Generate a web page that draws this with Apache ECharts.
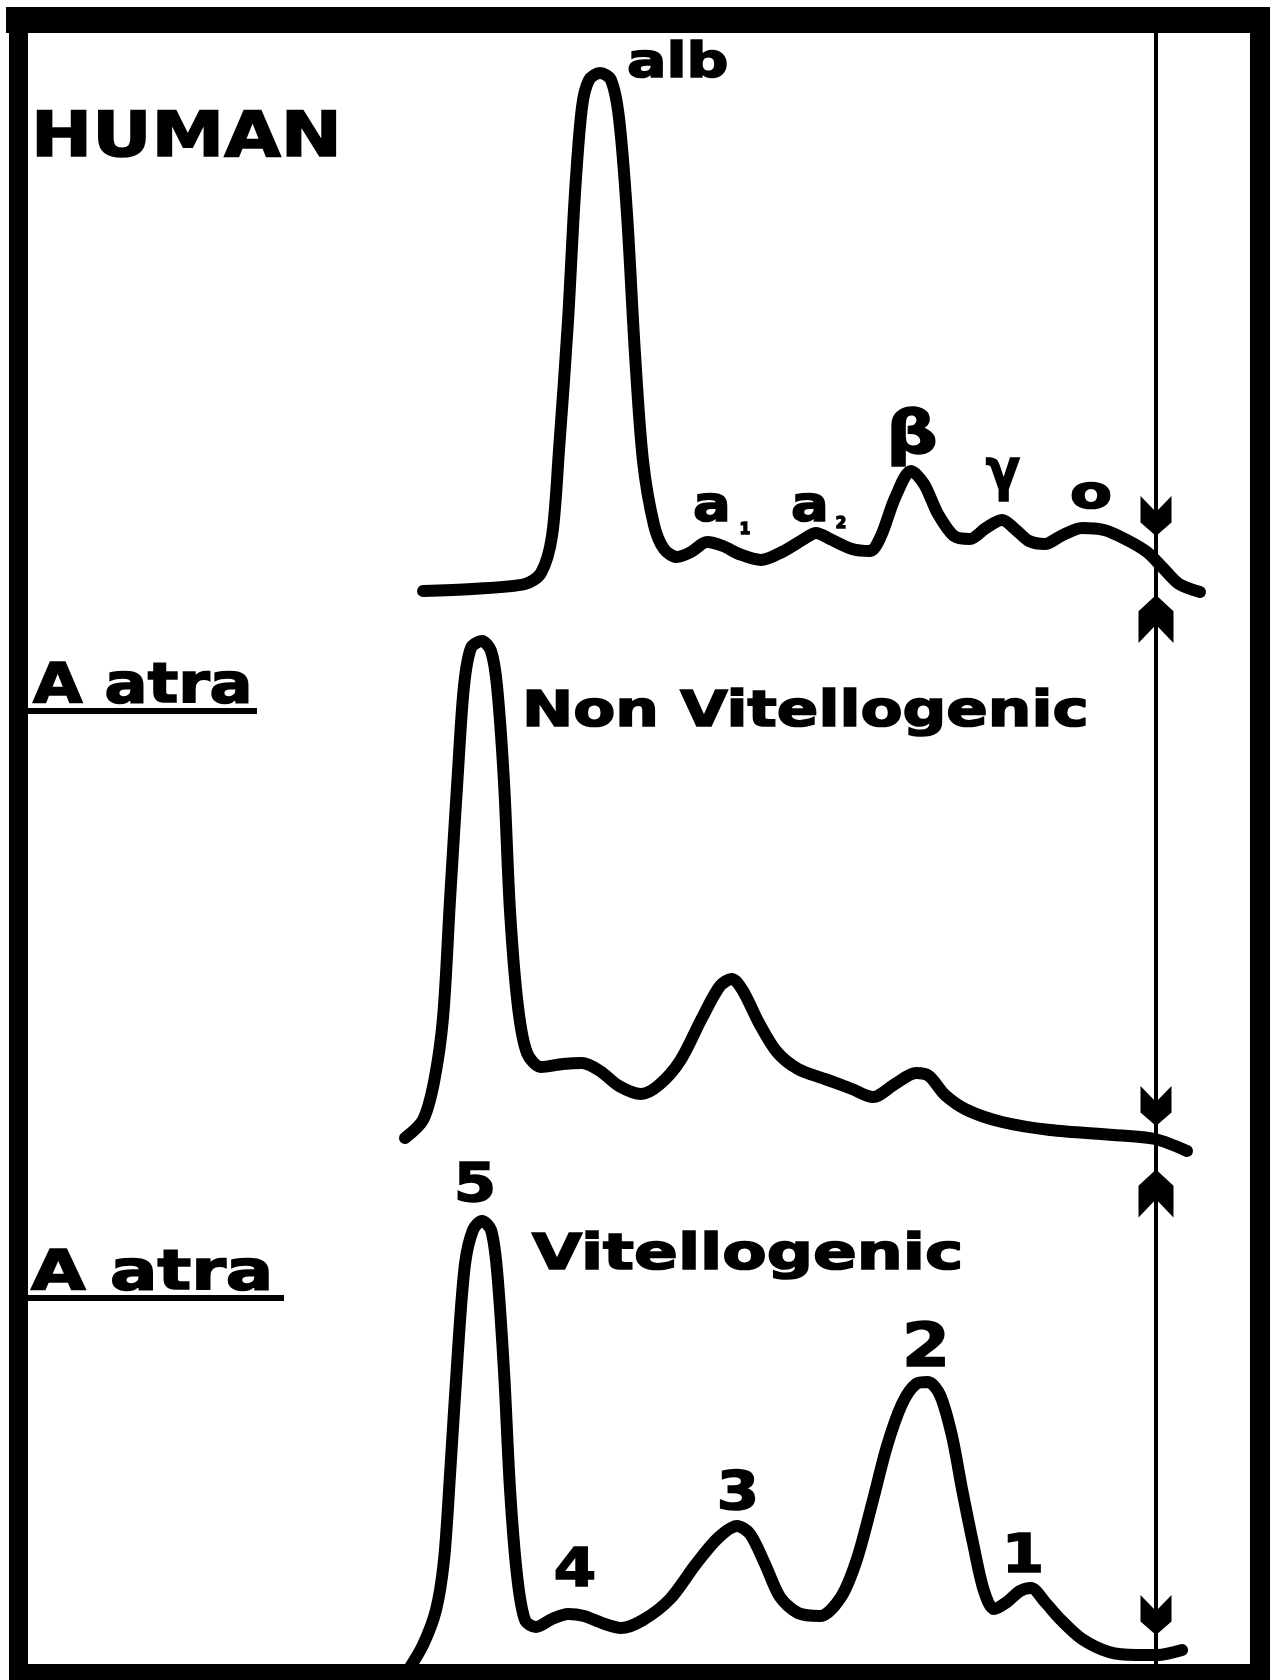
<!DOCTYPE html>
<html>
<head>
<meta charset="utf-8">
<script src="https://cdn.jsdelivr.net/npm/echarts@6/dist/echarts.min.js"></script>
<style>
  html, body { margin: 0; padding: 0; background: #fff; }
  #chart { width: 1274px; height: 1680px; }
</style>
</head>
<body>
<div id="chart"></div>
<script>
// Densitometer scans of serum proteins after electrophoresis.
// Migration distance (arbitrary units) against relative absorbance.

const humanMigration = [4.3, 9.2, 14.5, 16.1, 17.2, 17.9, 18.8, 19.5, 20.2, 20.9, 22.0, 23.1, 23.9, 24.7, 25.5, 26.3, 27.4, 28.4, 29.7, 31.1,
  32.7, 34.3, 35.9, 38.1, 40.2, 42.4, 43.6, 45.0, 47.2, 49.0, 50.1, 51.5, 53.1, 54.4, 55.8, 57.4, 59.0, 60.6, 62.2, 63.6,
  64.9, 66.5, 68.1, 70.2, 72.4, 74.5, 76.7, 78.3, 79.9, 82.0];
const humanAbsorbance = [1.9, 2.1, 2.6, 3.7, 7.4, 16.0, 28.9, 41.7, 50.3, 53.0, 53.7, 53.0, 49.2, 39.6, 25.6, 14.9, 8.5, 6.1, 5.3, 5.8,
  6.8, 6.4, 5.6, 5.0, 5.8, 7.1, 7.7, 7.1, 6.1, 5.9, 7.4, 11.2, 13.9, 12.6, 9.6, 7.4, 7.1, 8.2, 9.0, 8.0,
  6.9, 6.6, 7.4, 8.2, 8.0, 7.1, 5.8, 4.2, 2.6, 1.8];

const nonVitMigration = [2.5, 4.3, 5.4, 6.3, 7.0, 7.8, 8.4, 9.1, 10.2, 11.1, 11.7, 12.4, 13.0, 13.8, 14.7, 16.1, 18.3, 20.2, 22.0, 23.9,
  26.1, 27.9, 30.0, 32.2, 34.0, 35.2, 36.3, 37.9, 39.7, 41.8, 44.5, 47.2, 49.3, 51.5, 53.6, 54.9, 56.5, 58.7, 62.2, 67.0,
  73.4, 77.5, 80.7];
const nonVitAbsorbance = [1.2, 3.0, 6.8, 13.2, 25.0, 37.9, 46.4, 50.2, 50.9, 49.9, 46.4, 36.8, 23.9, 14.3, 9.7, 8.3, 8.6, 8.7, 7.9, 6.4,
  5.6, 6.5, 8.9, 13.2, 16.4, 17.1, 15.9, 12.7, 9.8, 8.1, 7.1, 6.1, 5.3, 6.6, 7.7, 7.4, 5.5, 4.0, 2.8, 2.0,
  1.5, 1.1, -0.1];

const vitMigration = [2.7, 4.3, 5.6, 6.4, 7.0, 7.8, 8.5, 9.3, 10.2, 11.1, 11.7, 12.4, 13.0, 13.7, 14.5, 15.6, 17.2, 18.8, 20.4, 22.2,
  24.1, 26.3, 29.0, 31.6, 33.8, 35.7, 37.0, 38.5, 40.0, 41.8, 44.0, 46.1, 47.7, 49.3, 50.7, 52.2, 53.6, 54.8, 56.0, 57.2,
  58.2, 59.3, 60.4, 61.4, 62.7, 64.0, 65.1, 66.5, 68.1, 70.2, 72.9, 75.6, 77.7, 80.2];
const vitAbsorbance = [-2.2, 0.5, 4.0, 9.0, 17.5, 30.0, 38.6, 42.0, 42.9, 42.0, 38.0, 27.9, 16.1, 7.5, 3.0, 2.3, 3.1, 3.6, 3.4, 2.7,
  2.2, 3.0, 5.1, 8.6, 11.2, 12.4, 11.6, 8.6, 5.3, 3.7, 3.4, 5.3, 9.1, 15.0, 20.4, 24.6, 26.6, 26.8, 25.5, 21.4,
  16.1, 10.7, 5.9, 4.1, 4.8, 5.9, 6.2, 4.8, 3.0, 1.1, -0.2, -0.5, -0.5, 0.0];

// Application slot (origin) and the arrows that mark it on each trace
const originMigration = 77.6;
const originArrowDown = [9.4, 4.4, 3.5];
const originArrowUp = [-0.9, -4.35];

const pairs = (xs, ys) => xs.map((x, i) => [x, ys[i]]);

const INK = '#000';
const FONT = 'DejaVu Sans';
const downArrow = 'path://M0,0 L50,40 L100,0 L100,66 L50,100 L0,66 Z';
const upArrow = 'path://M50,0 L100,34 L100,100 L50,62 L0,100 L0,34 Z';

// three stacked traces share one migration scale, plus one overlay for the origin line
const traceGrids = [
  { left: 380, width: 840, top: 40, height: 620 },
  { left: 380, width: 840, top: 580, height: 620 },
  { left: 380, width: 840, top: 1080, height: 620 }
];
const grids = traceGrids.concat([{ left: 380, width: 840, top: 33, height: 1631 }])
  .map(g => Object.assign({ containLabel: false, outerBoundsMode: 'none', show: false }, g));

const xAxes = grids.map((g, i) => ({ type: 'value', gridIndex: i, min: 0, max: 84, show: false }));
const yAxes = grids.map((g, i) => i < 3
  ? { type: 'value', gridIndex: i, min: -5, max: 57, show: false }
  : { type: 'value', gridIndex: i, min: 0, max: 1, show: false });

const traceLine = { width: 12, color: INK, cap: 'round', join: 'round' };
const traces = [
  pairs(humanMigration, humanAbsorbance),
  pairs(nonVitMigration, nonVitAbsorbance),
  pairs(vitMigration, vitAbsorbance)
].map((data, i) => ({
  type: 'line', xAxisIndex: i, yAxisIndex: i, data,
  smooth: 0.3, symbol: 'none', clip: false, silent: true,
  lineStyle: traceLine
}));

const originLine = {
  type: 'line', xAxisIndex: 3, yAxisIndex: 3,
  data: [[originMigration, 0], [originMigration, 1]],
  symbol: 'none', clip: false, silent: true,
  lineStyle: { width: 4, color: INK }
};

const markerStyle = { color: INK, opacity: 1 };
const downMarks = originArrowDown.map((y, i) => ({
  type: 'scatter', xAxisIndex: i, yAxisIndex: i, data: [[originMigration, y]],
  symbol: downArrow, symbolSize: [31, 40], clip: false, silent: true,
  itemStyle: markerStyle, z: 5
}));
const upMarks = originArrowUp.map((y, i) => ({
  type: 'scatter', xAxisIndex: i, yAxisIndex: i, data: [[originMigration, y]],
  symbol: upArrow, symbolSize: [35, 48], clip: false, silent: true,
  itemStyle: markerStyle, z: 5
}));

function label(text, x, y, size, scaleX, align) {
  return {
    type: 'text', x, y, scaleX: scaleX || 1, silent: true, z: 10,
    style: {
      text, fontSize: size, fontWeight: 'bold', fontFamily: FONT, fill: INK,
      stroke: INK, lineWidth: 1.6,
      align: align || 'left', verticalAlign: 'middle'
    }
  };
}
function bar(x, y, width, height) {
  return { type: 'rect', silent: true, z: 20, shape: { x, y, width, height }, style: { fill: INK } };
}

const graphics = [
  // frame
  bar(6, 7, 1264, 26),
  bar(9, 7, 19, 1673),
  bar(1250, 7, 20, 1673),
  bar(9, 1664, 1261, 16),
  // titles
  label('HUMAN', 31, 140, 63, 1.16),
  label('A atra', 33, 688, 55, 1.16),
  bar(25, 708, 232, 6),
  label('Non Vitellogenic', 522, 713, 49, 1.25),
  label('A atra', 31, 1275, 55, 1.28),
  bar(25, 1295, 259, 6),
  label('Vitellogenic', 532, 1256, 49, 1.32),
  // human fractions
  label('alb', 627, 65, 48, 1.22),
  label('a', 712, 508, 50, 1.12, 'center'),
  label('1', 745, 530, 15, 1, 'center'),
  label('a', 810, 508, 50, 1.12, 'center'),
  label('2', 841, 524, 15, 1, 'center'),
  label('β', 912, 437, 60, 1.2, 'center'),
  label('γ', 1003, 474, 56, 0.9, 'center'),
  label('o', 1091, 496, 47, 1.3, 'center'),
  // vitellogenic peak numbers
  label('5', 475, 1187, 53, 1.15, 'center'),
  label('2', 926, 1350, 60, 1.15, 'center'),
  label('3', 738, 1495, 53, 1.15, 'center'),
  label('4', 575, 1572, 53, 1.15, 'center'),
  label('1', 1023, 1558, 53, 1.15, 'center')
];

const chart = echarts.init(document.getElementById('chart'), null, { renderer: 'canvas' });
chart.setOption({
  animation: false,
  backgroundColor: '#fff',
  grid: grids,
  xAxis: xAxes,
  yAxis: yAxes,
  series: traces.concat([originLine], downMarks, upMarks),
  graphic: { elements: graphics }
});
</script>
</body>
</html>
